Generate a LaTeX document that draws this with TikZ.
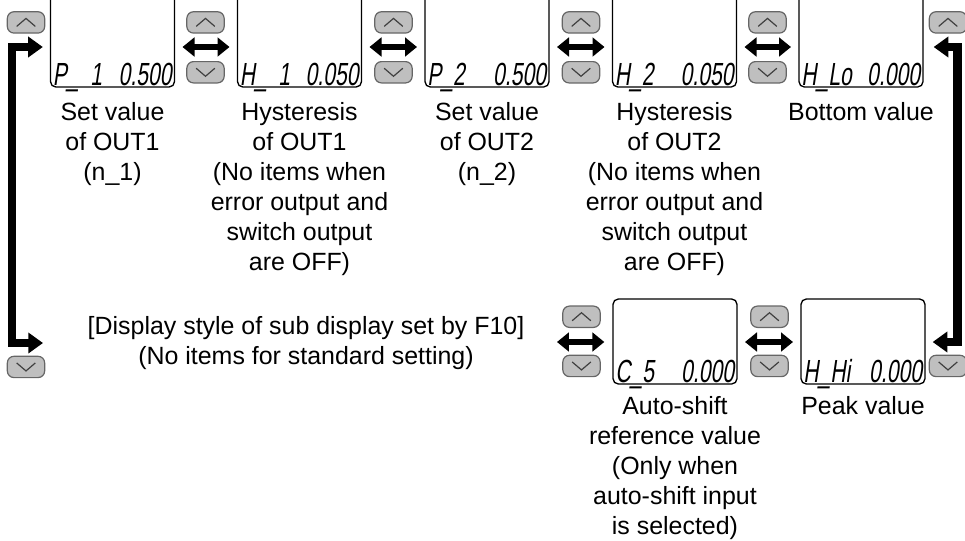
\documentclass[tikz,border=0pt]{standalone}
\usepackage{fontspec}
\setmainfont{Liberation Sans}
\newfontfamily\segfont[FakeSlant=0.15,FakeStretch=0.66]{Liberation Sans}
\usetikzlibrary{positioning, arrows.meta, calc}

\begin{document}
\begin{tikzpicture}[x=0.75pt, y=-0.75pt,
  lcd/.style={draw, line width=1pt, rounded corners=4pt, minimum width=93pt, minimum height=63.75pt, inner sep=0pt},
  lcdtop/.style={lcd, minimum height=72pt},
  seg/.style={font=\segfont\fontsize{24}{24}\selectfont, inner sep=0pt},
  btn/.style={draw=black!60, fill=black!25, line width=0.9pt, rounded corners=5pt, minimum width=28pt, minimum height=16pt, inner sep=0pt},
  upbtn/.style={btn, path picture={\draw[black!75, line width=0.9pt, sharp corners] ([xshift=-7pt,yshift=-3pt]path picture bounding box.center) -- ++(7pt,6pt) -- ++(7pt,-6pt);}},
  dnbtn/.style={btn, path picture={\draw[black!75, line width=0.9pt, sharp corners] ([xshift=-7pt,yshift=3pt]path picture bounding box.center) -- ++(7pt,-6pt) -- ++(7pt,6pt);}},
  desc/.style={align=center, inner sep=0pt, font=\fontsize{18.7}{22.5}\selectfont},
  dbl/.style={{Triangle[length=9pt,width=14pt]}-{Triangle[length=9pt,width=14pt]}, line width=5pt},
  loopar/.style={{Triangle[length=11pt,width=15pt]}-{Triangle[length=11pt,width=15pt]}, line width=6.5pt, line join=miter}]
  \useasboundingbox (0,0) rectangle (965,540);
  \clip (0,0) rectangle (965,540);

  % top row of displays
  \node[lcdtop] (d1) at (112.5,39) {};
  \node[lcdtop] (d2) at (299.5,39) {};
  \node[lcdtop] (d3) at (487,39) {};
  \node[lcdtop] (d4) at (674.5,39) {};
  \node[lcdtop] (d5) at (861,39) {};
  % bottom row of displays
  \node[lcd] (d6) at (675,341.5) {};
  \node[lcd] (d7) at (863,341.5) {};

  % segment texts
  \node[seg, anchor=base west] at ([xshift=2pt,yshift=1.5pt]d1.south west) {P\_\ \ 1};
  \node[seg, anchor=base east] at ([xshift=-2.5pt,yshift=1.5pt]d1.south east) {0.500};
  \node[seg, anchor=base west] at ([xshift=2pt,yshift=1.5pt]d2.south west) {H\_\ \ 1};
  \node[seg, anchor=base east] at ([xshift=-2.5pt,yshift=1.5pt]d2.south east) {0.050};
  \node[seg, anchor=base west] at ([xshift=2pt,yshift=1.5pt]d3.south west) {P\_2};
  \node[seg, anchor=base east] at ([xshift=-2.5pt,yshift=1.5pt]d3.south east) {0.500};
  \node[seg, anchor=base west] at ([xshift=2pt,yshift=1.5pt]d4.south west) {H\_2};
  \node[seg, anchor=base east] at ([xshift=-2.5pt,yshift=1.5pt]d4.south east) {0.050};
  \node[seg, anchor=base west] at ([xshift=2pt,yshift=1.5pt]d5.south west) {H\_Lo};
  \node[seg, anchor=base east] at ([xshift=-2.5pt,yshift=1.5pt]d5.south east) {0.000};
  \node[seg, anchor=base west] at ([xshift=2pt,yshift=1.5pt]d6.south west) {C\_5};
  \node[seg, anchor=base east] at ([xshift=-2.5pt,yshift=1.5pt]d6.south east) {0.000};
  \node[seg, anchor=base west] at ([xshift=2pt,yshift=1.5pt]d7.south west) {H\_Hi};
  \node[seg, anchor=base east] at ([xshift=-2.5pt,yshift=1.5pt]d7.south east) {0.000};

  % captions
  \node[desc, below=10.5pt of d1] (c1) {Set value\\of OUT1\\(n\_1)};
  \node[desc, below=10.5pt of d2] (c2) {Hysteresis\\of OUT1\\(No items when\\error output and\\switch output\\are OFF)};
  \node[desc, below=10.5pt of d3] (c3) {Set value\\of OUT2\\(n\_2)};
  \node[desc, below=10.5pt of d4] (c4) {Hysteresis\\of OUT2\\(No items when\\error output and\\switch output\\are OFF)};
  \node[desc, below=10.5pt of d5] (c5) {Bottom value};
  \node[desc, below=8.5pt of d6] (c6) {Auto-shift\\reference value\\(Only when\\auto-shift input\\is selected)};
  \node[desc, below=8.5pt of d7] (c7) {Peak value};
  \node[desc] (mid) at (306,343) {[Display style of sub display set by F10]\\(No items for standard setting)};

  % key columns
  \coordinate (kL) at (26,47);
  \coordinate (k1) at (205.5,47);
  \coordinate (k2) at (393.5,47);
  \coordinate (k3) at (581,47);
  \coordinate (k4) at (767.5,47);
  \coordinate (kR) at (948,47);
  \coordinate (k6) at (581.5,342);
  \coordinate (k7) at (769.5,342);
  \coordinate (kB) at (26,343);
  \coordinate (kC) at (948,342);

  % up / down keys
  \node[upbtn, above=10pt of kL] (uL) {};
  \node[upbtn, above=10pt of k1] (u1) {};
  \node[dnbtn, below=10.5pt of k1] (n1) {};
  \node[upbtn, above=10pt of k2] (u2) {};
  \node[dnbtn, below=10.5pt of k2] (n2) {};
  \node[upbtn, above=10pt of k3] (u3) {};
  \node[dnbtn, below=10.5pt of k3] (n3) {};
  \node[upbtn, above=10pt of k4] (u4) {};
  \node[dnbtn, below=10.5pt of k4] (n4) {};
  \node[upbtn, above=10pt of kR] (uR) {};
  \node[upbtn, above=10.5pt of k6] (u6) {};
  \node[dnbtn, below=9.5pt of k6] (n6) {};
  \node[upbtn, above=10.5pt of k7] (u7) {};
  \node[dnbtn, below=9.5pt of k7] (n7) {};
  \node[dnbtn, below=9.5pt of kB] (nB) {};
  \node[dnbtn, below=9.5pt of kC] (nC) {};

  % arrows between displays
  \draw[dbl] ([xshift=5.5pt]d1.east |- k1) -- ([xshift=-5.5pt]d2.west |- k1);
  \draw[dbl] ([xshift=5.5pt]d2.east |- k2) -- ([xshift=-5.5pt]d3.west |- k2);
  \draw[dbl] ([xshift=5.5pt]d3.east |- k3) -- ([xshift=-5.5pt]d4.west |- k3);
  \draw[dbl] ([xshift=5.5pt]d4.east |- k4) -- ([xshift=-5.5pt]d5.west |- k4);
  \draw[dbl] ([xshift=-18.4pt]k6) -- ([xshift=-6pt]d6.west |- k6);
  \draw[dbl] ([xshift=5.5pt]d6.east |- k7) -- ([xshift=-5.5pt]d7.west |- k7);

  % return loops
  \coordinate (ltop) at ([xshift=-5.25pt]d1.west |- kL);
  \coordinate (lbot) at ([xshift=12.75pt]kB);
  \coordinate (rtop) at ([xshift=7.5pt]d5.east |- kR);
  \coordinate (rbot) at ([xshift=5.25pt]d7.east |- kC);
  \draw[loopar] (lbot) -- ++(-31,0) |- (ltop);
  \draw[loopar] (rbot) -- ++(25,0) |- (rtop);
\end{tikzpicture}
\end{document}
